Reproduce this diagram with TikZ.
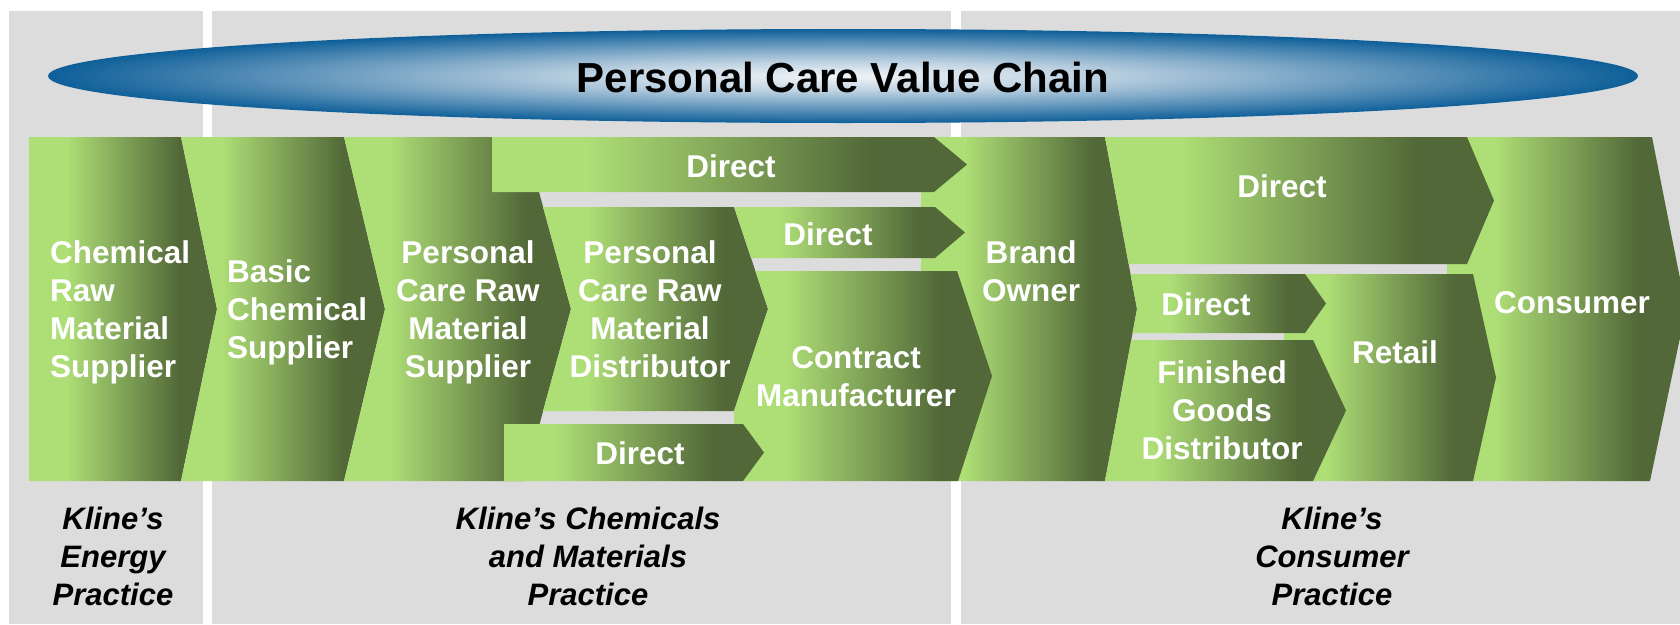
\documentclass[tikz,border=0pt]{standalone}
\usepackage{fontspec}
\setmainfont{Liberation Sans}
\definecolor{gl}{RGB}{174,222,118}
\definecolor{gd}{RGB}{82,104,56}
\definecolor{panel}{RGB}{220,220,220}
\definecolor{eb}{RGB}{14,95,153}
\definecolor{ew}{RGB}{242,244,247}
\colorlet{ea}{eb!22!ew}
\colorlet{ec}{eb!45!ew}
\colorlet{ed}{eb!72!ew}
\pgfdeclarehorizontalshading{greenfade}{100bp}{color(0bp)=(gl); color(25bp)=(gl); color(35bp)=(gl); color(65bp)=(gd); color(75bp)=(gd); color(100bp)=(gd)}
\pgfdeclareradialshading{ellfade}{\pgfpoint{0bp}{0bp}}{color(0bp)=(ew); color(7.5bp)=(ea); color(13bp)=(ec); color(19bp)=(ed); color(25bp)=(eb); color(50bp)=(eb)}
\tikzset{
  chev/.style={shading=greenfade},
  panelbox/.style={fill=panel},
  lbl/.style={text=white, font=\bfseries\fontsize{31.5}{38}\selectfont, inner sep=0pt, anchor=base, align=center},
  lbll/.style={lbl, anchor=base west, align=left},
  prac/.style={text=black, font=\bfseries\itshape\fontsize{31}{38}\selectfont, inner sep=0pt, anchor=base, align=center}
}
\begin{document}
\begin{tikzpicture}[x=1pt,y=-1pt]
\useasboundingbox (0,0) rectangle (1680,624);
\clip (0,0) rectangle (1680,624);
% panels
\path[panelbox] (9,11) rectangle (203,624);
\path[panelbox] (212,11) rectangle (951,624);
\path[panelbox] (961,11) rectangle (1680,624);
% title ellipse
\shade[shading=ellfade] (843,76) ellipse [x radius=795, y radius=47];
\node[font=\bfseries\fontsize{42}{50}\selectfont, inner sep=0pt, anchor=base] (title) at (843,92) {Personal Care Value Chain};
% background chevrons
\shade[chev] (29,137) -- (181,137) -- (217,309) -- (181,481) -- (29,481) -- cycle;
\shade[chev] (181,137) -- (344,137) -- (385,309) -- (344,481) -- (181,481) -- (217,309) -- cycle;
\shade[chev] (344,137) -- (524,137) -- (571,309) -- (524,481) -- (344,481) -- (385,309) -- cycle;
\shade[chev] (921,137) -- (1105,137) -- (1137,309) -- (1105,481) -- (921,481) -- cycle;
\shade[chev] (1447,137) -- (1652,137) -- (1686,309) -- (1650,481) -- (1447,481) -- cycle;
% middle section
\shade[chev] (492,137) -- (934,137) -- (967,164.5) -- (934,192) -- (492,192) -- cycle;
\shade[chev] (543,207) -- (734,207) -- (768,309) -- (734,411) -- (543,411) -- (571,309) -- cycle;
\shade[chev] (734,207) -- (935,207) -- (965,232.5) -- (935,258) -- (751,258) -- cycle;
\shade[chev] (755.3,271) -- (957,271) -- (992,376) -- (958,481) -- (734,481) -- (734,411) -- (768,309) -- cycle;
\shade[chev] (504,424) -- (743,424) -- (764,452.5) -- (743,481) -- (504,481) -- cycle;
% right section
\shade[chev] (1284,274) -- (1473,274) -- (1496,377.5) -- (1473,481) -- (1284,481) -- cycle;
\shade[chev] (1105,137) -- (1467,137) -- (1494,200.5) -- (1467,264) -- (1128.6,264) -- cycle;
\shade[chev] (1130.5,274) -- (1305,274) -- (1326,303.5) -- (1305,333) -- (1132.5,333) -- (1137,309) -- cycle;
\shade[chev] (1131.2,340) -- (1313,340) -- (1346,410.5) -- (1313,481) -- (1105,481) -- cycle;
% labels (anchor = baseline of last line)
\node[lbll] (crms) at (50,377) {Chemical\\Raw\\Material\\Supplier};
\node[lbll] (bcs) at (227,358) {Basic\\Chemical\\Supplier};
\node[lbl] (pcrms) at (468,377) {Personal\\Care Raw\\Material\\Supplier};
\node[lbl] (pcrmd) at (650,377) {Personal\\Care Raw\\Material\\Distributor};
\node[lbl] (cm) at (856,406) {Contract\\Manufacturer};
\node[lbl] (d1) at (731,177) {Direct};
\node[lbl] (d2) at (828,245) {Direct};
\node[lbl] (d3) at (640,464) {Direct};
\node[lbl] (bo) at (1031,301) {Brand\\Owner};
\node[lbl] (d4) at (1282,197) {Direct};
\node[lbl] (d5) at (1206,315) {Direct};
\node[lbl] (ret) at (1395,363) {Retail};
\node[lbl] (fgd) at (1222,459) {Finished\\Goods\\Distributor};
\node[lbl] (con) at (1572,313) {Consumer};
% practice labels
\node[prac] (p1) at (113,605) {Kline’s\\Energy\\Practice};
\node[prac] (p2) at (588,605) {Kline’s Chemicals\\and Materials\\Practice};
\node[prac] (p3) at (1332,605) {Kline’s\\Consumer\\Practice};
\end{tikzpicture}
\end{document}
